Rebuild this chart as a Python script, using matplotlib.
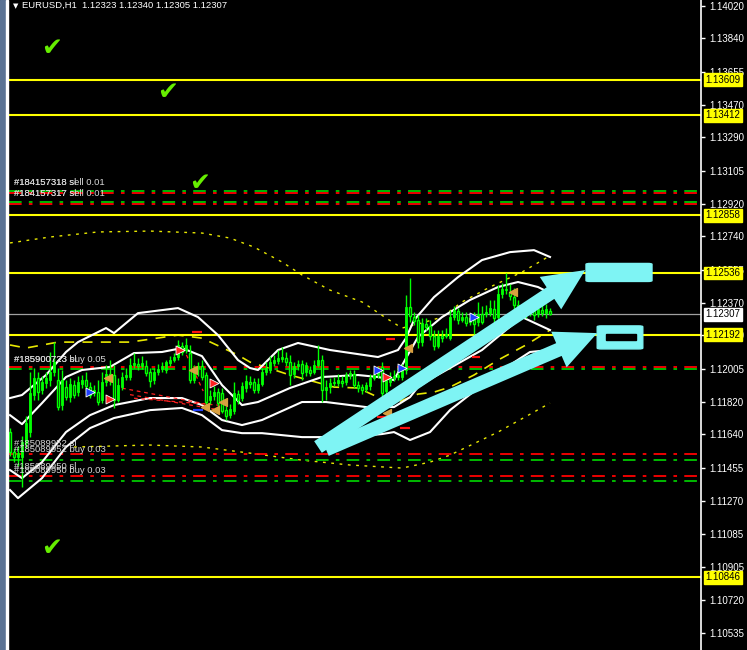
import numpy as np
import matplotlib.pyplot as plt
from matplotlib.patches import Rectangle, FancyBboxPatch

# EURUSD H1 candles (o, h, l, c)
opens = [1.11652, 1.11541, 1.11513, 1.11513, 1.11591, 1.11652, 1.11858, 1.11953, 1.11885, 1.11924,
         1.11941, 1.11986, 1.11941, 1.11802, 1.11902, 1.11846, 1.11913, 1.11874, 1.11919, 1.11941,
         1.11902, 1.11869, 1.11874, 1.11830, 1.11930, 1.11975, 1.11969, 1.11830, 1.11902, 1.11958,
         1.11958, 1.12025, 1.12030, 1.12019, 1.12019, 1.11986, 1.11941, 1.11986, 1.12002, 1.11997,
         1.12036, 1.12052, 1.12069, 1.12130, 1.12108, 1.12091, 1.11941, 1.12008, 1.12019, 1.11969,
         1.11830, 1.11852, 1.11874, 1.11869, 1.11774, 1.11747, 1.11769, 1.11863, 1.11841, 1.11897,
         1.11930, 1.11930, 1.11885, 1.11919, 1.11986, 1.11997, 1.12036, 1.12047, 1.12058, 1.12063,
         1.12041, 1.11975, 1.12019, 1.12030, 1.11986, 1.11997, 1.11986, 1.12025, 1.12052, 1.11885,
         1.11902, 1.11924, 1.11924, 1.11935, 1.11930, 1.11969, 1.11975, 1.11913, 1.11902, 1.11891,
         1.11908, 1.11953, 1.11969, 1.12014, 1.11880, 1.11930, 1.11953, 1.11958, 1.11958, 1.11997,
         1.12347, 1.12291, 1.12274, 1.12152, 1.12252, 1.12241, 1.12186, 1.12130, 1.12186, 1.12186,
         1.12174, 1.12291, 1.12324, 1.12274, 1.12291, 1.12263, 1.12274, 1.12263, 1.12308, 1.12308,
         1.12313, 1.12336, 1.12291, 1.12419, 1.12441, 1.12430, 1.12402, 1.12358, 1.12341, 1.12324,
         1.12319, 1.12324, 1.12308, 1.12330, 1.12313, 1.12323]
highs = [1.11675, 1.11564, 1.11575, 1.11630, 1.11741, 1.11986, 1.12008, 1.11986, 1.11963, 1.11986,
         1.12097, 1.12152, 1.12008, 1.11997, 1.11941, 1.11953, 1.11941, 1.11963, 1.11969, 1.11986,
         1.11930, 1.11913, 1.11941, 1.11986, 1.12025, 1.12052, 1.12025, 1.11953, 1.11986, 1.12008,
         1.12063, 1.12091, 1.12063, 1.12074, 1.12052, 1.12008, 1.12008, 1.12030, 1.12041, 1.12052,
         1.12074, 1.12091, 1.12163, 1.12152, 1.12174, 1.12136, 1.12025, 1.12041, 1.12052, 1.11986,
         1.11885, 1.11908, 1.11897, 1.11897, 1.11797, 1.11808, 1.11930, 1.11885, 1.11930, 1.11969,
         1.11963, 1.11953, 1.11953, 1.12008, 1.12041, 1.12074, 1.12080, 1.12108, 1.12124, 1.12097,
         1.12080, 1.12041, 1.12052, 1.12052, 1.12041, 1.12019, 1.12052, 1.12136, 1.12080, 1.11941,
         1.11953, 1.11958, 1.11975, 1.11963, 1.11986, 1.11997, 1.11997, 1.11935, 1.11919, 1.11930,
         1.11975, 1.11997, 1.12019, 1.12041, 1.11969, 1.11986, 1.11997, 1.11997, 1.12030, 1.12413,
         1.12508, 1.12319, 1.12302, 1.12286, 1.12286, 1.12274, 1.12219, 1.12219, 1.12219, 1.12230,
         1.12330, 1.12352, 1.12341, 1.12319, 1.12319, 1.12308, 1.12319, 1.12375, 1.12352, 1.12358,
         1.12386, 1.12386, 1.12469, 1.12480, 1.12536, 1.12475, 1.12452, 1.12386, 1.12363, 1.12347,
         1.12352, 1.12347, 1.12358, 1.12375, 1.12363, 1.12340]
lows = [1.11519, 1.11485, 1.11463, 1.11347, 1.11564, 1.11625, 1.11830, 1.11830, 1.11863, 1.11897,
        1.11908, 1.11963, 1.11774, 1.11774, 1.11830, 1.11819, 1.11841, 1.11852, 1.11897, 1.11874,
        1.11841, 1.11852, 1.11802, 1.11813, 1.11908, 1.11913, 1.11786, 1.11819, 1.11885, 1.11941,
        1.11941, 1.12008, 1.11997, 1.12002, 1.11963, 1.11902, 1.11919, 1.11969, 1.11986, 1.11980,
        1.12019, 1.12041, 1.12052, 1.12080, 1.12091, 1.11924, 1.11924, 1.11963, 1.11941, 1.11802,
        1.11808, 1.11830, 1.11797, 1.11758, 1.11719, 1.11730, 1.11752, 1.11808, 1.11824, 1.11874,
        1.11897, 1.11869, 1.11869, 1.11908, 1.11969, 1.11980, 1.12019, 1.12030, 1.12041, 1.12019,
        1.11913, 1.11953, 1.11997, 1.11941, 1.11963, 1.11963, 1.11975, 1.12014, 1.11819, 1.11830,
        1.11869, 1.11908, 1.11908, 1.11902, 1.11913, 1.11947, 1.11897, 1.11874, 1.11863, 1.11874,
        1.11885, 1.11941, 1.11953, 1.11841, 1.11863, 1.11908, 1.11935, 1.11941, 1.11941, 1.11975,
        1.12263, 1.12247, 1.12119, 1.12130, 1.12219, 1.12163, 1.12108, 1.12119, 1.12152, 1.12174,
        1.12163, 1.12274, 1.12252, 1.12263, 1.12241, 1.12247, 1.12197, 1.12241, 1.12252, 1.12291,
        1.12297, 1.12263, 1.12274, 1.12397, 1.12419, 1.12386, 1.12330, 1.12319, 1.12302, 1.12286,
        1.12297, 1.12274, 1.12291, 1.12297, 1.12286, 1.12305]
closes = [1.11541, 1.11513, 1.11535, 1.11597, 1.11702, 1.11869, 1.11953, 1.11874, 1.11930, 1.11953,
          1.11986, 1.12041, 1.11791, 1.11941, 1.11846, 1.11919, 1.11858, 1.11930, 1.11941, 1.11908,
          1.11858, 1.11885, 1.11819, 1.11930, 1.11975, 1.11941, 1.11830, 1.11913, 1.11958, 1.11969,
          1.12025, 1.12036, 1.12019, 1.12036, 1.11980, 1.11935, 1.11986, 1.12002, 1.12019, 1.12041,
          1.12052, 1.12069, 1.12136, 1.12097, 1.12136, 1.11941, 1.12008, 1.12019, 1.11958, 1.11819,
          1.11852, 1.11874, 1.11813, 1.11769, 1.11741, 1.11780, 1.11869, 1.11830, 1.11908, 1.11935,
          1.11919, 1.11885, 1.11919, 1.11986, 1.12008, 1.12041, 1.12052, 1.12063, 1.12069, 1.12041,
          1.11969, 1.12019, 1.12030, 1.11980, 1.12025, 1.11980, 1.12025, 1.12052, 1.11885, 1.11902,
          1.11924, 1.11930, 1.11941, 1.11924, 1.11969, 1.11980, 1.11913, 1.11897, 1.11885, 1.11913,
          1.11953, 1.11969, 1.11997, 1.11869, 1.11941, 1.11953, 1.11963, 1.11969, 1.11997, 1.12347,
          1.12297, 1.12269, 1.12152, 1.12258, 1.12236, 1.12186, 1.12130, 1.12186, 1.12174, 1.12197,
          1.12291, 1.12330, 1.12274, 1.12291, 1.12258, 1.12286, 1.12252, 1.12308, 1.12263, 1.12319,
          1.12341, 1.12286, 1.12419, 1.12447, 1.12447, 1.12408, 1.12358, 1.12341, 1.12324, 1.12313,
          1.12330, 1.12302, 1.12336, 1.12313, 1.12336, 1.12307]

# white band lines (bar index, price)
band_a_bars = [0, 3, 9, 14, 17, 24, 26, 32, 42, 47, 52, 57, 60, 62, 67, 72, 80, 92, 97, 99, 101,
               106, 112, 118, 125, 131, 135]
band_a = [1.11841, 1.11858, 1.11969, 1.12097, 1.12152, 1.12230, 1.12202, 1.12313, 1.12341, 1.12291,
          1.12191, 1.12052, 1.12008, 1.11997, 1.12108, 1.12147, 1.12108, 1.12069, 1.12108, 1.12174,
          1.12274, 1.12402, 1.12513, 1.12608, 1.12652, 1.12663, 1.12625]
band_b_bars = [0, 3, 8, 14, 18, 25, 31, 38, 43, 48, 53, 58, 62, 70, 78, 87, 92, 96, 99, 102,
               108, 115, 122, 127, 132, 135]
band_b = [1.11746, 1.11696, 1.11813, 1.11958, 1.11997, 1.12014, 1.12091, 1.12097, 1.12119, 1.12074,
          1.11913, 1.11802, 1.11819, 1.11897, 1.11958, 1.11969, 1.11958, 1.11941, 1.12063, 1.12180,
          1.12291, 1.12386, 1.12458, 1.12486, 1.12458, 1.12425]
band_c_bars = [0, 3, 8, 14, 20, 26, 35, 43, 48, 53, 58, 63, 73, 79, 89, 96, 100, 102, 106, 110,
               118, 124, 128, 135]
band_c = [1.11441, 1.11396, 1.11485, 1.11652, 1.11746, 1.11802, 1.11841, 1.11841, 1.11802, 1.11719,
          1.11691, 1.11719, 1.11819, 1.11819, 1.11791, 1.11791, 1.11846, 1.11902, 1.11958, 1.12008,
          1.12108, 1.12219, 1.12291, 1.12219]
band_d_bars = [0, 2, 8, 14, 20, 26, 35, 43, 48, 53, 58, 63, 73, 85, 93, 96, 100, 105, 110, 118,
               125, 130, 135]
band_d = [1.11330, 1.11285, 1.11396, 1.11569, 1.11674, 1.11730, 1.11774, 1.11786, 1.11746, 1.11663,
          1.11646, 1.11646, 1.11624, 1.11624, 1.11641, 1.11652, 1.11608, 1.11652, 1.11774, 1.11913,
          1.12025, 1.12097, 1.12108]

# yellow long-period band (upper / middle / lower)
ybb_up_bars = [0, 10, 22, 35, 48, 55, 61, 68, 73, 80, 88, 94, 98, 102, 108, 113, 120, 128, 134, 135]
ybb_up = [1.12703, 1.12736, 1.12764, 1.12769, 1.12758, 1.12730, 1.12680, 1.12597, 1.12525, 1.12441,
          1.12375, 1.12286, 1.12230, 1.12252, 1.12291, 1.12375, 1.12458, 1.12541, 1.12619, 1.12630]
ybb_mid_bars = [0, 4, 12, 30, 42, 48, 57, 60, 70, 81, 87, 92, 97, 102, 106, 110, 116, 122, 129, 135]
ybb_mid = [1.12136, 1.12119, 1.12152, 1.12152, 1.12191, 1.12174, 1.12080, 1.12041, 1.11969, 1.11902,
           1.11897, 1.11846, 1.11819, 1.11863, 1.11874, 1.11902, 1.11969, 1.12052, 1.12136, 1.12219]
ybb_dn_bars = [16, 35, 48, 60, 73, 85, 98, 105, 110, 122, 135]
ybb_dn = [1.11569, 1.11580, 1.11569, 1.11535, 1.11496, 1.11469, 1.11452, 1.11485, 1.11524,
          1.11652, 1.11813]

# horizontal levels
levels = [1.13609, 1.13412, 1.12858, 1.12536, 1.12192, 1.10846]
bid = 1.12307

# order lines (price, colour) and their labels
order_lines = [(1.12994, '#00c800'), (1.12983, '#ff0000'), (1.12933, '#00c800'), (1.12922, '#ff0000'),
               (1.12016, '#ff0000'), (1.12005, '#00c800'),
               (1.11530, '#ff0000'), (1.11496, '#00c800'),
               (1.11407, '#ff0000'), (1.11380, '#00c800')]
order_labels = [(1.13012, '#184157318 sl'), (1.13012, '#184157318 sell 0.01'),
                (1.12950, '#184157317 sl'), (1.12950, '#184157317 sell 0.01'),
                (1.12030, '#185900723 sl'), (1.12030, '#185900723 buy 0.05'),
                (1.11563, '#185089952 sl'), (1.11530, '#185089952 buy 0.03'),
                (1.11435, '#185089950 sl'), (1.11413, '#185089950 buy 0.03')]

# trade arrows (bar, price)
arrows_buy = [(20, 1.11875), (92, 1.11997), (98, 1.12008), (116, 1.12292)]
arrows_sell = [(25, 1.11838), (42.5, 1.12108), (51, 1.11924), (94.3, 1.11958)]
arrows_close = [(24.5, 1.11953), (45.8, 1.11997), (48.8, 1.11791), (51.3, 1.11774), (53.3, 1.11819),
                (94.3, 1.11758), (99.5, 1.12119), (125.8, 1.12430)]
# short stop marks (bar from, bar to, price)
marks_red = [(45.5, 48, 1.12208), (94, 96.3, 1.12169), (115.5, 117.5, 1.12069),
             (91.8, 94, 1.11735), (97.5, 100, 1.11674)]
marks_blue = [(45.8, 48.3, 1.11774)]

yticks = [1.14020, 1.13840, 1.13655, 1.13470, 1.13290, 1.13105, 1.12920, 1.12740, 1.12555,
          1.12370, 1.12190, 1.12005, 1.11820, 1.11640, 1.11455, 1.11270, 1.11085, 1.10905,
          1.10720, 1.10535]

W, H = 747, 650
fig = plt.figure(figsize=(W / 100, H / 100), dpi=100, facecolor='black')
ax = fig.add_axes([9 / W, 0, (701 - 9) / W, 1], facecolor='black')
ax.set_xlim(-0.25, 172.75)
ax.set_ylim(1.10441, 1.14053)
for s in ['top', 'left', 'bottom']:
    ax.spines[s].set_visible(False)
ax.spines['right'].set_color('white')
ax.spines['right'].set_linewidth(1.2)
ax.set_xticks([])
ax.yaxis.tick_right()
ax.set_yticks(yticks)
ax.set_yticklabels([f'{t:.5f}' for t in yticks])
ax.tick_params(axis='y', colors='white', labelcolor='white', length=3, width=1, pad=3,
               labelsize=7)
for lab in ax.get_yticklabels():
    lab.set_family('Liberation Sans')

# left window strip
fig.patches.append(Rectangle((0, 0), 5 / W, 1, transform=fig.transFigure, color='#5b7394', zorder=0))
fig.patches.append(Rectangle((6 / W, 0), 2 / W, 1, transform=fig.transFigure, color='white', zorder=0))

x = np.arange(len(closes))
o = np.array(opens); h = np.array(highs); l = np.array(lows); c = np.array(closes)

# yellow bands
ax.plot(ybb_up_bars, ybb_up, color='#e8e800', lw=1, ls=(0, (2, 4)), zorder=2)
ax.plot(ybb_dn_bars, ybb_dn, color='#e8e800', lw=1, ls=(0, (2, 4)), zorder=2)
ax.plot(ybb_mid_bars, ybb_mid, color='#e8e800', lw=1.2, ls=(0, (6, 5)), zorder=2)

# white bands
for bx_, b in [(band_a_bars, band_a), (band_b_bars, band_b), (band_c_bars, band_c), (band_d_bars, band_d)]:
    ax.plot(bx_, b, color='white', lw=1.5, zorder=3)

# levels
for lv in levels:
    ax.axhline(lv, color='#ffff00', lw=1.5, zorder=2)
ax.axhline(bid, color='#a0a0a0', lw=0.9, zorder=1)

for p, col in order_lines:
    ax.axhline(p, color=col, lw=1.3, ls=(0, (7, 4, 2, 4)), zorder=2)
for p, t in order_labels:
    ax.text(1.1, p, t, color='#d8d8d8', fontsize=6.8, family='Liberation Sans',
            va='bottom', ha='left', zorder=6)

# red history lines between trades
ax.plot([28, 49], [1.11896, 1.11808], color='#ff2020', lw=0.9, ls=(0, (3, 3)), zorder=3)
ax.plot([30, 51], [1.11860, 1.11780], color='#ff2020', lw=0.9, ls=(0, (3, 3)), zorder=3)
ax.plot([31, 53], [1.11840, 1.11800], color='#ff2020', lw=0.9, ls=(0, (3, 3)), zorder=3)
ax.plot([43.3, 48.3], [1.12119, 1.11880], color='#ff2020', lw=0.9, ls=(0, (3, 3)), zorder=3)

# candles
up = c >= o
ax.vlines(x, l, h, color='#00ff00', lw=1.0, zorder=4)
ax.bar(x[up], (c - o)[up], bottom=o[up], width=0.72, color='#00ff00', edgecolor='#00ff00',
       lw=0.6, zorder=5)
ax.bar(x[~up], (c - o)[~up], bottom=o[~up], width=0.72, color='black', edgecolor='#00ff00',
       lw=1.0, zorder=5)

for b0, b1, p in marks_red:
    ax.hlines(p, b0, b1, color='#ff1010', lw=1.6, zorder=5)
for b0, b1, p in marks_blue:
    ax.hlines(p, b0, b1, color='#2040ff', lw=1.6, zorder=5)

bx, by = zip(*arrows_buy)
ax.scatter(bx, by, marker='>', s=42, color='#1f3fff', edgecolors='white', linewidths=0.6, zorder=6)
sx, sy = zip(*arrows_sell)
ax.scatter(sx, sy, marker='>', s=42, color='#ff2020', edgecolors='white', linewidths=0.6, zorder=6)
cx, cy = zip(*arrows_close)
ax.scatter(cx, cy, marker='<', s=32, color='#d9a040', zorder=6)

# level labels on the axis
def price_box(p, fc, tc='black'):
    ax.annotate(f'{p:.5f}', xy=(1, p), xycoords=('axes fraction', 'data'),
                xytext=(3, 0), textcoords='offset points', va='center', ha='left',
                fontsize=7, family='Liberation Sans', color=tc, zorder=10,
                bbox=dict(boxstyle='square,pad=0.15', fc=fc, ec=fc), annotation_clip=False)

for lv in levels:
    price_box(lv, '#ffff00')
price_box(bid, 'white')

# header
fig.text(13 / W, 1 - 6 / H, '\u25BC', color='white', fontsize=5, va='center', ha='left')
fig.text(22 / W, 1 - 5 / H, 'EURUSD,H1  1.12323 1.12340 1.12305 1.12307', color='white',
         fontsize=6.8, family='Liberation Sans', va='center', ha='left')

# check marks
for xx, yy in [(52, 48), (168, 92), (200, 183), (52, 548)]:
    fig.text(xx / W, 1 - yy / H, '\u2714', color='#66ee00', fontsize=18, ha='center', va='center')

# cyan arrows and boxes
cyan = '#7ef4f4'
style = 'simple,head_length=3.0,head_width=2.8,tail_width=1.0'
ax.annotate('', xy=(143.8, 1.12552), xytext=(77, 1.11569),
            arrowprops=dict(arrowstyle=style, color=cyan, lw=0, shrinkA=0, shrinkB=0), zorder=7)
ax.annotate('', xy=(146.8, 1.12202), xytext=(79, 1.11555),
            arrowprops=dict(arrowstyle=style, color=cyan, lw=0, shrinkA=0, shrinkB=0), zorder=7)
ax.add_patch(FancyBboxPatch((144.0, 1.12489), 16.5, 0.00100, boxstyle='round,pad=0,rounding_size=1.0',
                            fc=cyan, ec=cyan, zorder=7, mutation_aspect=0.00005))
ax.add_patch(FancyBboxPatch((146.8, 1.12114), 11.4, 0.00128, boxstyle='round,pad=0,rounding_size=1.0',
                            fc=cyan, ec=cyan, zorder=7, mutation_aspect=0.00005))
ax.add_patch(Rectangle((149.0, 1.12166), 7.6, 0.00030, fc='black', ec='black', zorder=8))

fig.savefig('out.png', dpi=100, facecolor='black')
